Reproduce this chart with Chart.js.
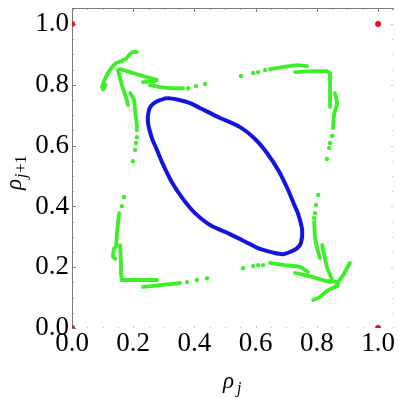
<!DOCTYPE html>
<html>
<head>
<meta charset="utf-8">
<script src="https://cdn.jsdelivr.net/npm/chart.js@4.4.1/dist/chart.umd.min.js"></script>
<style>
    html, body { margin: 0; padding: 0; background: #fff; }
    #wrap { width: 399px; height: 399px; }
</style>
</head>
<body>
<div id="wrap"><canvas id="phase" width="399" height="399"></canvas></div>
<script>
// axis ticks
const majorTicks = [0, 0.2, 0.4, 0.6, 0.8, 1.0];
const tickLabels = ['0.0', '0.2', '0.4', '0.6', '0.8', '1.0'];
const minorTicks = [0.05, 0.1, 0.15, 0.25, 0.3, 0.35, 0.45, 0.5, 0.55, 0.65, 0.7, 0.75, 0.85, 0.9, 0.95, 1.05];

// closed blue orbit (clockwise from the top)
const orbitX = [0.310, 0.343, 0.386, 0.418, 0.484, 0.549, 0.598, 0.637, 0.676, 0.706, 0.725, 0.739, 0.752, 0.748, 0.735, 0.712,
    0.690, 0.657, 0.614, 0.582, 0.516, 0.451, 0.402, 0.363, 0.324, 0.294, 0.275, 0.261, 0.248, 0.252, 0.265, 0.288, 0.310];
const orbitY = [0.757, 0.752, 0.740, 0.724, 0.691, 0.661, 0.622, 0.576, 0.516, 0.454, 0.408, 0.375, 0.322, 0.280, 0.262, 0.250,
    0.243, 0.248, 0.260, 0.276, 0.309, 0.339, 0.378, 0.424, 0.484, 0.546, 0.592, 0.625, 0.678, 0.720, 0.738, 0.750, 0.757];

// green trails, one list of [x, y] per corner
const greenTopLeft = [
    [[0.098, 0.793], [0.105, 0.813], [0.118, 0.839], [0.131, 0.859], [0.144, 0.872], [0.160, 0.878], [0.176, 0.885], [0.186, 0.898], [0.199, 0.908], [0.212, 0.908]],
    [[0.101, 0.785], [0.110, 0.800]],
    [[0.157, 0.852], [0.190, 0.842], [0.222, 0.832], [0.278, 0.816]],
    [[0.232, 0.809], [0.270, 0.812]],
    [[0.255, 0.799], [0.288, 0.793], [0.327, 0.789], [0.363, 0.789]],
    [[0.150, 0.849], [0.163, 0.799], [0.176, 0.760], [0.183, 0.734]],
    [[0.190, 0.773], [0.203, 0.750], [0.206, 0.717], [0.212, 0.668], [0.212, 0.651]],
];
const greenTopRight = [
    [[0.647, 0.852], [0.690, 0.859], [0.735, 0.865], [0.768, 0.862]],
    [[0.729, 0.842], [0.784, 0.845], [0.833, 0.845], [0.843, 0.839]],
    [[0.843, 0.839], [0.843, 0.816], [0.843, 0.766], [0.843, 0.727]],
    [[0.859, 0.773], [0.866, 0.740], [0.856, 0.701], [0.853, 0.658]],
];
const greenBottomLeft = [
    [[0.154, 0.378], [0.147, 0.313], [0.144, 0.266]],
    [[0.137, 0.262], [0.134, 0.234], [0.142, 0.228]],
    [[0.157, 0.273], [0.160, 0.217], [0.160, 0.181], [0.163, 0.158]],
    [[0.163, 0.158], [0.222, 0.158], [0.278, 0.158]],
    [[0.232, 0.135], [0.288, 0.141], [0.353, 0.148]],
];
const greenBottomRight = [
    [[0.791, 0.349], [0.794, 0.299], [0.801, 0.263], [0.810, 0.230]],
    [[0.817, 0.273], [0.833, 0.201], [0.850, 0.158]],
    [[0.866, 0.148], [0.886, 0.174], [0.908, 0.214]],
    [[0.788, 0.092], [0.810, 0.102], [0.837, 0.125], [0.869, 0.138]],
    [[0.647, 0.214], [0.696, 0.207], [0.745, 0.201], [0.771, 0.184]],
    [[0.729, 0.181], [0.784, 0.168], [0.843, 0.151]],
    [[0.840, 0.155], [0.870, 0.150], [0.860, 0.135]],
];
// isolated green points
const greenDots = [
    [0.379, 0.789], [0.405, 0.796], [0.435, 0.803], [0.212, 0.628], [0.209, 0.609], [0.206, 0.586], [0.199, 0.549], [0.170, 0.431], [0.163, 0.401],
    [0.552, 0.829], [0.592, 0.839], [0.608, 0.842], [0.631, 0.849], [0.850, 0.632], [0.843, 0.609], [0.840, 0.592], [0.833, 0.556], [0.804, 0.438],
    [0.376, 0.151], [0.408, 0.158], [0.441, 0.164],
    [0.559, 0.197], [0.592, 0.204], [0.608, 0.207], [0.624, 0.207], [0.797, 0.405], [0.794, 0.378], [0.791, 0.362],
];

// fixed points in the corners
const fixedX = [0, 0, 1, 1];
const fixedY = [0, 1, 0, 1];

const BLUE = 'rgb(20, 20, 225)';
const GREEN = 'rgb(60, 240, 40)';
const RED = 'rgb(230, 20, 30)';
const SERIF = '"Liberation Serif", "Times New Roman", Times, serif';

const toPoints = (pairs) => pairs.map(([x, y]) => ({ x, y }));

const datasets = [];
[...greenTopLeft, ...greenTopRight, ...greenBottomLeft, ...greenBottomRight].forEach((trail) => {
    datasets.push({
        data: toPoints(trail),
        showLine: true,
        borderColor: GREEN,
        borderWidth: 3.8,
        borderCapStyle: 'round',
        borderJoinStyle: 'round',
        tension: 0.2,
        pointRadius: 0,
    });
});
datasets.push({
    data: toPoints(greenDots),
    backgroundColor: GREEN,
    borderWidth: 0,
    pointRadius: 2.2,
});
datasets.push({
    data: orbitX.map((x, i) => ({ x, y: orbitY[i] })),
    showLine: true,
    borderColor: BLUE,
    borderWidth: 4,
    tension: 0.3,
    pointRadius: 0,
});
datasets.push({
    data: fixedX.map((x, i) => ({ x, y: fixedY[i] })),
    backgroundColor: RED,
    borderWidth: 0,
    pointRadius: 3,
    clip: 0,
});

const framePlugin = {
    id: 'frame',
    beforeDatasetsDraw(chart) {
        const { ctx, chartArea: a, scales: { x, y } } = chart;
        ctx.save();
        ctx.strokeStyle = '#7a7a7a';
        ctx.lineWidth = 1;
        ctx.beginPath();
        ctx.moveTo(a.left + 0.5, a.bottom);
        ctx.lineTo(a.left + 0.5, a.top + 0.5);
        ctx.lineTo(a.right, a.top + 0.5);
        ctx.stroke();

        const drawTicks = (vals, len, color) => {
            ctx.strokeStyle = color;
            ctx.beginPath();
            vals.forEach((v) => {
                const px = Math.round(x.getPixelForValue(v)) + 0.5;
                const py = Math.round(y.getPixelForValue(v)) + 0.5;
                if (px <= a.right) {
                    ctx.moveTo(px, a.top);
                    ctx.lineTo(px, a.top + len);
                }
                if (py >= a.top) {
                    ctx.moveTo(a.left, py);
                    ctx.lineTo(a.left + len, py);
                }
            });
            ctx.stroke();
            // bottom and right edges only carry faint ticks
            ctx.strokeStyle = '#c4c4c4';
            ctx.beginPath();
            vals.forEach((v) => {
                const px = Math.round(x.getPixelForValue(v)) + 0.5;
                const py = Math.round(y.getPixelForValue(v)) + 0.5;
                if (px <= a.right && px > a.left + 1) {
                    ctx.moveTo(px, a.bottom);
                    ctx.lineTo(px, a.bottom - len / 2);
                }
                if (py >= a.top && py < a.bottom - 1) {
                    ctx.moveTo(a.right - 1, py);
                    ctx.lineTo(a.right - 1 - len / 2, py);
                }
            });
            ctx.stroke();
        };
        drawTicks(majorTicks, 4, '#7a7a7a');
        drawTicks(minorTicks, 2, '#8a8a8a');
        ctx.restore();
    },
};

const titlePlugin = {
    id: 'axisTitles',
    afterDraw(chart) {
        const ctx = chart.ctx;
        ctx.save();
        ctx.fillStyle = '#000';
        ctx.textBaseline = 'alphabetic';

        // x title: rho_j
        ctx.font = 'italic 23px ' + SERIF;
        ctx.fillText('ρ', 223, 388);
        ctx.font = 'italic 16px ' + SERIF;
        ctx.fillText('j', 237, 393);

        // y title: rho_{j+1}, rotated
        ctx.translate(21, 190);
        ctx.rotate(-Math.PI / 2);
        ctx.font = 'italic 23px ' + SERIF;
        ctx.fillText('ρ', 0, 0);
        let off = ctx.measureText('ρ').width + 1;
        ctx.font = 'italic 16px ' + SERIF;
        ctx.fillText('j', off, 5);
        off += ctx.measureText('j').width + 1;
        ctx.font = '16px ' + SERIF;
        ctx.fillText('+1', off, 5);
        ctx.restore();
    },
};

const tickFont = { family: SERIF, size: 27 };

new Chart(document.getElementById('phase'), {
    type: 'scatter',
    data: { datasets },
    options: {
        responsive: false,
        animation: false,
        layout: { padding: { top: 8, right: 5, left: 0, bottom: 0 } },
        plugins: {
            legend: { display: false },
            tooltip: { enabled: false },
        },
        scales: {
            x: {
                type: 'linear',
                min: 0,
                max: 1.052,
                grid: { display: false, drawTicks: false },
                border: { display: false },
                afterBuildTicks: (scale) => { scale.ticks = majorTicks.map((v) => ({ value: v })); },
                afterFit: (scale) => {
                    scale.height = 71;
                    scale.paddingLeft = 0;
                    scale.paddingRight = 0;
                },
                ticks: {
                    font: tickFont,
                    color: '#000',
                    padding: 0,
                    maxRotation: 0,
                    autoSkip: false,
                    callback: (v) => tickLabels[majorTicks.indexOf(v)],
                },
            },
            y: {
                type: 'linear',
                min: 0,
                max: 1.053,
                grid: { display: false, drawTicks: false },
                border: { display: false },
                afterBuildTicks: (scale) => { scale.ticks = majorTicks.map((v) => ({ value: v })); },
                afterFit: (scale) => {
                    scale.width = 72;
                    scale.paddingTop = 0;
                    scale.paddingBottom = 0;
                },
                ticks: {
                    font: tickFont,
                    color: '#000',
                    padding: 3,
                    autoSkip: false,
                    callback: (v) => tickLabels[majorTicks.indexOf(v)],
                },
            },
        },
    },
    plugins: [framePlugin, titlePlugin],
});
</script>
</body>
</html>
